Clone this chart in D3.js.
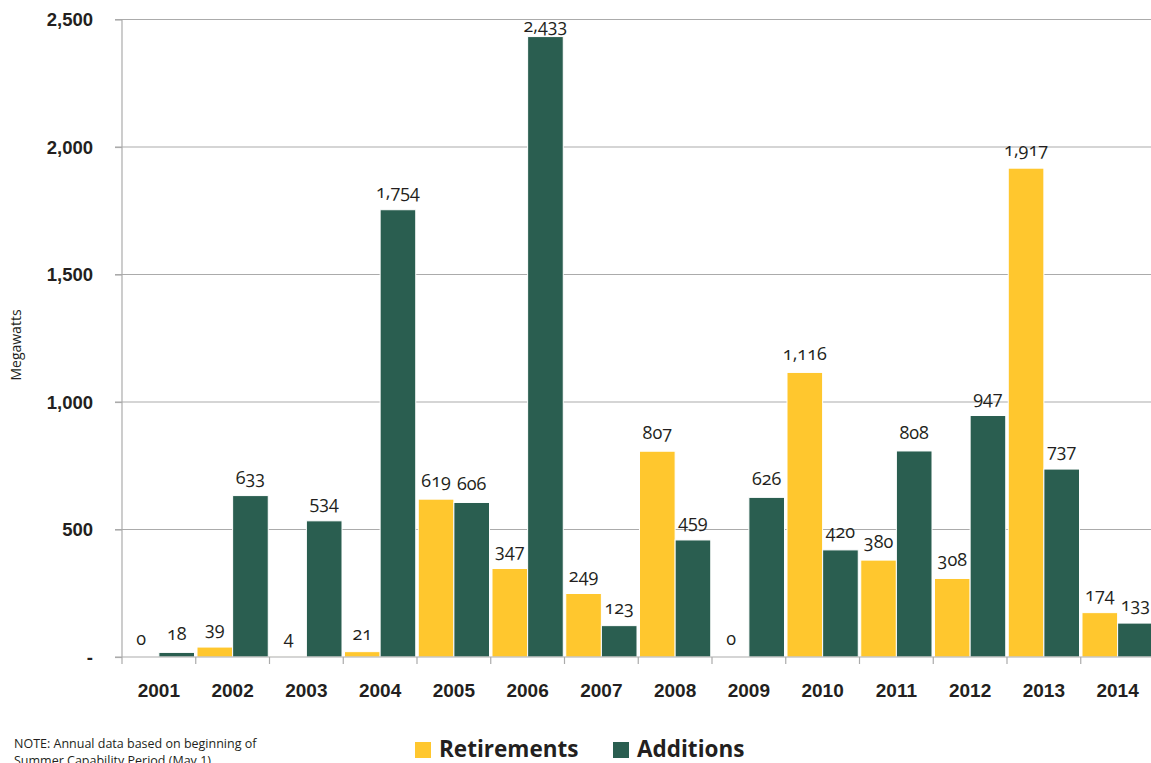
<!DOCTYPE html>
<html>
<head>
<meta charset="utf-8">
<script src="https://cdn.jsdelivr.net/npm/d3@7"></script>
<style>
  html, body { margin: 0; padding: 0; background: #fff; overflow: hidden; }
  svg { display: block; font-family: "Open Sans", "Noto Sans", sans-serif; font-variant-numeric: oldstyle-nums; }
</style>
</head>
<body>
<svg id="chart" width="1151" height="763"></svg>
<script>
// Annual capacity changes, megawatts
const years = ["2001","2002","2003","2004","2005","2006","2007","2008","2009","2010","2011","2012","2013","2014"];
const retirements = [0, 39, 4, 21, 619, 347, 249, 807, 0, 1116, 380, 308, 1917, 174];
const additions = [18, 633, 534, 1754, 606, 2433, 123, 459, 626, 420, 808, 947, 737, 133];
const seriesNames = ["Retirements", "Additions"];
const seriesColors = ["#FFC72E", "#2A5E50"];
const yTicks = [0, 500, 1000, 1500, 2000, 2500];

const rows = years.map((y, i) => ({ year: y, values: [retirements[i], additions[i]] }));

const svg = d3.select("#chart");
const plotLeft = 122, plotBottom = 657, plotTop = 19.5;
const step = 73.75;

const x = d3.scaleBand().domain(years).range([plotLeft, plotLeft + step * years.length]).padding(0);
const xs = d3.scaleBand().domain(seriesNames).range([0, x.bandwidth()]).paddingInner(0).paddingOuter(0.035);
const y = d3.scaleLinear().domain([0, 2500]).range([plotBottom, plotTop]);
const color = d3.scaleOrdinal().domain(seriesNames).range(seriesColors);

// Gridlines
svg.append("g")
  .selectAll("line")
  .data(yTicks.filter(d => d > 0))
  .join("line")
  .attr("x1", plotLeft - 7).attr("x2", 1151)
  .attr("y1", d => y(d)).attr("y2", d => y(d))
  .attr("stroke", "#ababab").attr("stroke-width", 1.2);

// Y axis
const yAxis = d3.axisLeft(y)
  .tickValues(yTicks)
  .tickSize(7)
  .tickPadding(22)
  .tickFormat(d => d === 0 ? "-" : d3.format(",")(d));
const gy = svg.append("g").attr("transform", `translate(${plotLeft},0)`).call(yAxis);
gy.select(".domain").attr("stroke", "#ababab").attr("stroke-width", 1.2).attr("d", `M0,${plotTop}V${plotBottom}`);
gy.selectAll(".tick line").attr("stroke", "#ababab").attr("stroke-width", 1.2);
gy.selectAll(".tick text")
  .attr("fill", "#231f20")
  .style("font-size", "18.5px")
  .style("font-weight", "700")
  .attr("dy", "0.34em");

// Bars
const groups = svg.append("g")
  .selectAll("g")
  .data(rows)
  .join("g")
  .attr("transform", d => `translate(${x(d.year)},0)`);

groups.selectAll("rect")
  .data(d => d.values.map((v, i) => ({ key: seriesNames[i], value: v })))
  .join("rect")
  .attr("x", d => xs(d.key))
  .attr("width", xs.bandwidth())
  .attr("y", d => y(d.value))
  .attr("height", d => plotBottom - y(d.value))
  .attr("fill", d => color(d.key))
  .attr("stroke", "#fff")
  .attr("stroke-width", d => d.value > 0 ? 1 : 0);

// Value labels
groups.selectAll("text")
  .data(d => d.values.map((v, i) => ({ key: seriesNames[i], value: v })))
  .join("text")
  .attr("x", d => xs(d.key) + xs.bandwidth() / 2)
  .attr("y", d => Math.max(y(d.value) - 12, 32))
  .attr("text-anchor", "middle")
  .attr("fill", "#231f20")
  .style("font-size", "18px")
  .text(d => d3.format(",")(d.value));

// X axis
const xAxis = d3.axisBottom(x).tickSize(0).tickPadding(0);
const gx = svg.append("g").attr("transform", `translate(0,${plotBottom})`).call(xAxis);
gx.select(".domain").attr("stroke", "#ababab").attr("stroke-width", 1.2).attr("d", `M${plotLeft - 7},0H1151`);
gx.selectAll(".tick text")
  .attr("y", 40)
  .attr("dy", 0)
  .attr("fill", "#231f20")
  .style("font-size", "19px")
  .style("font-weight", "700");
// Category separators
gx.append("g")
  .selectAll("line")
  .data(years)
  .join("line")
  .attr("x1", d => x(d)).attr("x2", d => x(d))
  .attr("y1", 0).attr("y2", 7)
  .attr("stroke", "#ababab").attr("stroke-width", 1.2);

// Y axis title
svg.append("text")
  .attr("transform", "translate(21,345) rotate(-90)")
  .attr("text-anchor", "middle")
  .attr("fill", "#231f20")
  .style("font-size", "14px")
  .style("font-variant-numeric", "normal")
  .text("Megawatts");

// Note
const note = svg.append("text")
  .attr("x", 14).attr("y", 748)
  .attr("fill", "#231f20")
  .style("font-size", "12.5px")
  .style("font-variant-numeric", "normal");
note.append("tspan").attr("x", 14).text("NOTE: Annual data based on beginning of");
note.append("tspan").attr("x", 14).attr("dy", 17).text("Summer Capability Period (May 1)");

// Legend
const legendX = [415, 613];
const legend = svg.append("g")
  .selectAll("g")
  .data(seriesNames)
  .join("g")
  .attr("transform", (d, i) => `translate(${legendX[i]},742)`);
legend.append("rect")
  .attr("width", 16).attr("height", 16)
  .attr("fill", d => color(d));
legend.append("text")
  .attr("x", 24).attr("y", 15)
  .attr("fill", "#231f20")
  .style("font-size", "22.5px")
  .style("font-weight", "700")
  .text(d => d);
</script>
</body>
</html>
